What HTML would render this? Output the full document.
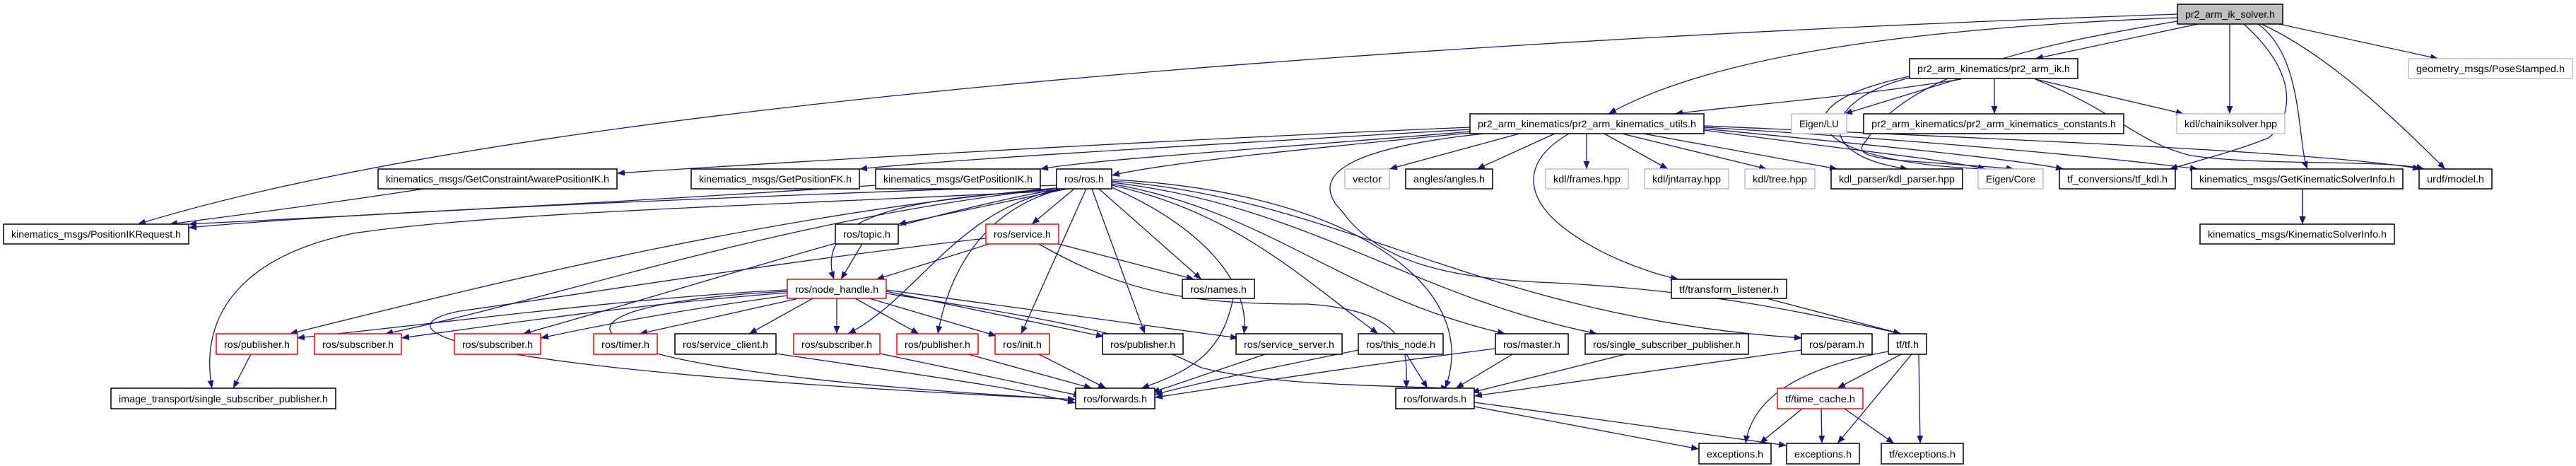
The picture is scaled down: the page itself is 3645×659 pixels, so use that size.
<!DOCTYPE html>
<html><head><meta charset="utf-8"><style>
html,body{margin:0;padding:0;background:#fff;}
svg{display:block;}
.e{fill:none;stroke:#191970;stroke-width:1.3;}
.b{fill:#fff;stroke:#000;stroke-width:1.5;}
.g{fill:#fff;stroke:#bfbfbf;stroke-width:1.5;}
.r{fill:#fff;stroke:#ff0000;stroke-width:1.5;}
text{font-family:"Liberation Sans",sans-serif;font-size:14px;fill:#000;}
</style></head><body>
<svg width="3645" height="659" viewBox="0 0 3645 659" xmlns="http://www.w3.org/2000/svg">
<defs><marker id="a" markerUnits="userSpaceOnUse" markerWidth="12" markerHeight="9" refX="11" refY="4.5" orient="auto"><path d="M0,0 L11,4.5 L0,9 z" fill="#191970"/></marker></defs>
<g class="e" marker-end="url(#a)">
<path d="M3110,34 L2880,83"/>
<path d="M3081,25 C2700,40 2420,80 2276,161"/>
<path d="M3081,20 C2200,50 800,130 195,317"/>
<path d="M3155,34 L3155,161"/>
<path d="M3175,34 C3270,120 3230,180 3210,195 C3160,215 3100,230 3070,239"/>
<path d="M3195,34 C3260,80 3250,200 3265,239"/>
<path d="M3200,34 C3300,80 3400,180 3460,239"/>
<path d="M3225,34 L3450,83"/>
<path d="M3081,30 C2900,60 2700,100 2640,200 C2610,230 2700,225 2850,239"/>
<path d="M2775,112 C2600,140 2450,150 2370,161"/>
<path d="M2770,112 L2610,161"/>
<path d="M2822,112 L2822,161"/>
<path d="M2880,112 L3090,161"/>
<path d="M2880,112 C3000,160 3020,200 3100,220 C3200,235 3380,225 3430,239"/>
<path d="M2702,108 C2500,150 2560,230 2810,239"/>
<path d="M2702,110 C2580,140 2560,220 2700,239"/>
<path d="M2080,180 C1600,200 1100,230 873,245"/>
<path d="M2080,183 C1700,205 1350,225 1216,239"/>
<path d="M2080,186 C1800,210 1550,225 1472,239"/>
<path d="M2080,188 C1850,210 1650,230 1573,248"/>
<path d="M2150,189 L1966,239"/>
<path d="M2200,189 L2090,239"/>
<path d="M2245,189 L2245,239"/>
<path d="M2270,189 L2360,239"/>
<path d="M2295,189 L2500,239"/>
<path d="M2325,189 L2600,239"/>
<path d="M2411,184 C2600,210 2750,225 2810,239"/>
<path d="M2411,182 C2650,205 2850,225 2920,239"/>
<path d="M2411,180 C2750,200 3000,225 3110,239"/>
<path d="M2411,178 C2800,195 3300,215 3425,239"/>
<path d="M2220,189 C2150,230 2160,280 2210,320 C2260,360 2330,385 2375,395"/>
<path d="M2100,189 C1900,210 1850,250 1900,300 C1950,370 2050,395 2200,400 C2400,410 2550,440 2690,472"/>
<path d="M600,267 C450,290 330,305 240,317"/>
<path d="M1240,262 C900,285 500,305 267,317"/>
<path d="M3258,267 L3258,317"/>
<path d="M1520,265 L1271,317"/>
<path d="M1520,267 L1460,317"/>
<path d="M1495,268 C1300,280 1150,300 1180,395"/>
<path d="M1555,267 L1700,395"/>
<path d="M1545,267 L1620,472"/>
<path d="M1537,267 L1445,472"/>
<path d="M1500,268 C1380,300 1340,400 1327,472"/>
<path d="M1497,268 C1350,300 1300,420 1200,472"/>
<path d="M1573,265 C1700,320 1770,400 1760,472"/>
<path d="M1573,262 C1750,300 1850,400 1950,472"/>
<path d="M1573,260 C1800,300 1900,420 2130,472"/>
<path d="M1573,258 C1850,290 2000,420 2260,472"/>
<path d="M1573,256 C1900,280 2100,450 2550,478"/>
<path d="M1573,254 C1900,270 2100,400 2045,549"/>
<path d="M1495,266 C1100,300 700,400 410,472"/>
<path d="M1495,266 C1100,310 800,420 545,472"/>
<path d="M1495,268 C1300,300 900,430 740,472"/>
<path d="M1495,270 C1100,290 700,300 500,330 C350,360 280,440 300,549"/>
<path d="M1495,262 C1000,280 500,300 267,322"/>
<path d="M1220,345 L1190,395"/>
<path d="M1400,345 L1240,395"/>
<path d="M1498,345 L1690,395"/>
<path d="M1470,345 C1600,420 1700,430 1850,430 C2000,440 1990,500 1990,549"/>
<path d="M1395,337 C1100,370 800,420 650,440 C550,460 560,520 1522,565"/>
<path d="M1114,410 C900,420 600,460 420,478"/>
<path d="M1114,414 C900,430 700,460 568,478"/>
<path d="M1114,418 C950,440 850,460 765,478"/>
<path d="M1130,422 L905,472"/>
<path d="M1150,422 L1060,472"/>
<path d="M1184,422 L1184,472"/>
<path d="M1210,422 L1300,472"/>
<path d="M1230,422 L1410,475"/>
<path d="M1254,412 L1562,476"/>
<path d="M1254,410 L1752,478"/>
<path d="M1114,412 C750,430 700,520 1522,565"/>
<path d="M1254,415 C1550,460 1620,480 1700,520 C1800,545 1950,545 2050,549"/>
<path d="M355,501 L330,549"/>
<path d="M1098,500 C1300,530 1450,550 1522,570"/>
<path d="M1245,500 L1530,560"/>
<path d="M1370,501 L1545,549"/>
<path d="M1470,501 L1565,549"/>
<path d="M1790,501 L1630,555"/>
<path d="M1990,501 L2020,549"/>
<path d="M2140,501 L2060,549"/>
<path d="M2300,501 L2082,555"/>
<path d="M2549,495 L2086,560"/>
<path d="M1745,422 C1730,490 1700,520 1615,549"/>
<path d="M1922,495 C1800,520 1700,540 1634,558"/>
<path d="M2116,493 C1900,520 1750,545 1634,562"/>
<path d="M2500,422 L2690,472"/>
<path d="M2690,501 L2600,549"/>
<path d="M2672,497 C2550,520 2480,560 2470,627"/>
<path d="M2705,501 L2600,627"/>
<path d="M2715,501 L2717,627"/>
<path d="M2550,578 L2490,627"/>
<path d="M2577,578 L2578,627"/>
<path d="M2610,578 L2680,627"/>
<path d="M2086,575 L2404,635"/>
<path d="M2086,569 L2528,630"/>
<path d="M3258,267 L3258,317"/>
</g>
<g>
<rect class="b" x="3081" y="6" width="149" height="28" style="fill:#bfbfbf"/><text x="3092" y="25" textLength="127" lengthAdjust="spacingAndGlyphs">pr2_arm_ik_solver.h</text>
<rect class="b" x="2702" y="83" width="238" height="28"/><text x="2713" y="102" textLength="216" lengthAdjust="spacingAndGlyphs">pr2_arm_kinematics/pr2_arm_ik.h</text>
<rect class="g" x="3408" y="83" width="232" height="28"/><text x="3419" y="102" textLength="210" lengthAdjust="spacingAndGlyphs">geometry_msgs/PoseStamped.h</text>
<rect class="b" x="2080" y="161" width="331" height="28"/><text x="2091" y="180" textLength="309" lengthAdjust="spacingAndGlyphs">pr2_arm_kinematics/pr2_arm_kinematics_utils.h</text>
<rect class="g" x="2535" y="161" width="78" height="28"/><text x="2546" y="180" textLength="56" lengthAdjust="spacingAndGlyphs">Eigen/LU</text>
<rect class="b" x="2637" y="161" width="368" height="28"/><text x="2648" y="180" textLength="346" lengthAdjust="spacingAndGlyphs">pr2_arm_kinematics/pr2_arm_kinematics_constants.h</text>
<rect class="g" x="3080" y="161" width="153" height="28"/><text x="3091" y="180" textLength="131" lengthAdjust="spacingAndGlyphs">kdl/chainiksolver.hpp</text>
<rect class="b" x="535" y="239" width="338" height="28"/><text x="546" y="258" textLength="316" lengthAdjust="spacingAndGlyphs">kinematics_msgs/GetConstraintAwarePositionIK.h</text>
<rect class="b" x="978" y="239" width="238" height="28"/><text x="989" y="258" textLength="216" lengthAdjust="spacingAndGlyphs">kinematics_msgs/GetPositionFK.h</text>
<rect class="b" x="1239" y="239" width="233" height="28"/><text x="1250" y="258" textLength="211" lengthAdjust="spacingAndGlyphs">kinematics_msgs/GetPositionIK.h</text>
<rect class="b" x="1495" y="239" width="78" height="28"/><text x="1506" y="258" textLength="56" lengthAdjust="spacingAndGlyphs">ros/ros.h</text>
<rect class="g" x="1903" y="239" width="63" height="28"/><text x="1914" y="258" textLength="41" lengthAdjust="spacingAndGlyphs">vector</text>
<rect class="b" x="1989" y="239" width="123" height="28"/><text x="2000" y="258" textLength="101" lengthAdjust="spacingAndGlyphs">angles/angles.h</text>
<rect class="g" x="2187" y="239" width="117" height="28"/><text x="2198" y="258" textLength="95" lengthAdjust="spacingAndGlyphs">kdl/frames.hpp</text>
<rect class="g" x="2327" y="239" width="119" height="28"/><text x="2338" y="258" textLength="97" lengthAdjust="spacingAndGlyphs">kdl/jntarray.hpp</text>
<rect class="g" x="2469" y="239" width="99" height="28"/><text x="2480" y="258" textLength="77" lengthAdjust="spacingAndGlyphs">kdl/tree.hpp</text>
<rect class="b" x="2591" y="239" width="186" height="28"/><text x="2602" y="258" textLength="164" lengthAdjust="spacingAndGlyphs">kdl_parser/kdl_parser.hpp</text>
<rect class="g" x="2799" y="239" width="92" height="28"/><text x="2810" y="258" textLength="70" lengthAdjust="spacingAndGlyphs">Eigen/Core</text>
<rect class="b" x="2914" y="239" width="164" height="28"/><text x="2925" y="258" textLength="142" lengthAdjust="spacingAndGlyphs">tf_conversions/tf_kdl.h</text>
<rect class="b" x="3101" y="239" width="299" height="28"/><text x="3112" y="258" textLength="277" lengthAdjust="spacingAndGlyphs">kinematics_msgs/GetKinematicSolverInfo.h</text>
<rect class="b" x="3423" y="239" width="103" height="28"/><text x="3434" y="258" textLength="81" lengthAdjust="spacingAndGlyphs">urdf/model.h</text>
<rect class="b" x="5" y="317" width="262" height="28"/><text x="16" y="336" textLength="240" lengthAdjust="spacingAndGlyphs">kinematics_msgs/PositionIKRequest.h</text>
<rect class="b" x="1182" y="317" width="89" height="28"/><text x="1193" y="336" textLength="67" lengthAdjust="spacingAndGlyphs">ros/topic.h</text>
<rect class="r" x="1395" y="317" width="103" height="28"/><text x="1406" y="336" textLength="81" lengthAdjust="spacingAndGlyphs">ros/service.h</text>
<rect class="b" x="3113" y="317" width="275" height="28"/><text x="3124" y="336" textLength="253" lengthAdjust="spacingAndGlyphs">kinematics_msgs/KinematicSolverInfo.h</text>
<rect class="r" x="1114" y="395" width="140" height="27"/><text x="1125" y="414" textLength="118" lengthAdjust="spacingAndGlyphs">ros/node_handle.h</text>
<rect class="b" x="1673" y="395" width="102" height="27"/><text x="1684" y="414" textLength="80" lengthAdjust="spacingAndGlyphs">ros/names.h</text>
<rect class="b" x="2365" y="395" width="163" height="27"/><text x="2376" y="414" textLength="141" lengthAdjust="spacingAndGlyphs">tf/transform_listener.h</text>
<rect class="r" x="306" y="472" width="115" height="29"/><text x="317" y="492" textLength="93" lengthAdjust="spacingAndGlyphs">ros/publisher.h</text>
<rect class="r" x="445" y="472" width="123" height="29"/><text x="456" y="492" textLength="101" lengthAdjust="spacingAndGlyphs">ros/subscriber.h</text>
<rect class="r" x="643" y="472" width="122" height="29"/><text x="654" y="492" textLength="100" lengthAdjust="spacingAndGlyphs">ros/subscriber.h</text>
<rect class="r" x="840" y="472" width="90" height="29"/><text x="851" y="492" textLength="68" lengthAdjust="spacingAndGlyphs">ros/timer.h</text>
<rect class="b" x="955" y="472" width="143" height="29"/><text x="966" y="492" textLength="121" lengthAdjust="spacingAndGlyphs">ros/service_client.h</text>
<rect class="r" x="1123" y="472" width="122" height="29"/><text x="1134" y="492" textLength="100" lengthAdjust="spacingAndGlyphs">ros/subscriber.h</text>
<rect class="r" x="1269" y="472" width="115" height="29"/><text x="1280" y="492" textLength="93" lengthAdjust="spacingAndGlyphs">ros/publisher.h</text>
<rect class="r" x="1408" y="472" width="77" height="29"/><text x="1419" y="492" textLength="55" lengthAdjust="spacingAndGlyphs">ros/init.h</text>
<rect class="b" x="1560" y="472" width="114" height="29"/><text x="1571" y="492" textLength="92" lengthAdjust="spacingAndGlyphs">ros/publisher.h</text>
<rect class="b" x="1749" y="472" width="150" height="29"/><text x="1760" y="492" textLength="128" lengthAdjust="spacingAndGlyphs">ros/service_server.h</text>
<rect class="b" x="1922" y="472" width="120" height="29"/><text x="1933" y="492" textLength="98" lengthAdjust="spacingAndGlyphs">ros/this_node.h</text>
<rect class="b" x="2116" y="472" width="103" height="29"/><text x="2127" y="492" textLength="81" lengthAdjust="spacingAndGlyphs">ros/master.h</text>
<rect class="b" x="2243" y="472" width="231" height="29"/><text x="2254" y="492" textLength="209" lengthAdjust="spacingAndGlyphs">ros/single_subscriber_publisher.h</text>
<rect class="b" x="2549" y="472" width="100" height="29"/><text x="2560" y="492" textLength="78" lengthAdjust="spacingAndGlyphs">ros/param.h</text>
<rect class="b" x="2672" y="472" width="54" height="29"/><text x="2683" y="492" textLength="32" lengthAdjust="spacingAndGlyphs">tf/tf.h</text>
<rect class="b" x="157" y="549" width="318" height="29"/><text x="168" y="569" textLength="296" lengthAdjust="spacingAndGlyphs">image_transport/single_subscriber_publisher.h</text>
<rect class="b" x="1522" y="549" width="112" height="29"/><text x="1533" y="569" textLength="90" lengthAdjust="spacingAndGlyphs">ros/forwards.h</text>
<rect class="b" x="1975" y="549" width="111" height="29"/><text x="1986" y="569" textLength="89" lengthAdjust="spacingAndGlyphs">ros/forwards.h</text>
<rect class="r" x="2515" y="549" width="121" height="29"/><text x="2526" y="569" textLength="99" lengthAdjust="spacingAndGlyphs">tf/time_cache.h</text>
<rect class="b" x="2404" y="627" width="102" height="29"/><text x="2415" y="647" textLength="80" lengthAdjust="spacingAndGlyphs">exceptions.h</text>
<rect class="b" x="2528" y="627" width="103" height="29"/><text x="2539" y="647" textLength="81" lengthAdjust="spacingAndGlyphs">exceptions.h</text>
<rect class="b" x="2662" y="627" width="116" height="29"/><text x="2673" y="647" textLength="94" lengthAdjust="spacingAndGlyphs">tf/exceptions.h</text>
</g>
</svg>
</body></html>
